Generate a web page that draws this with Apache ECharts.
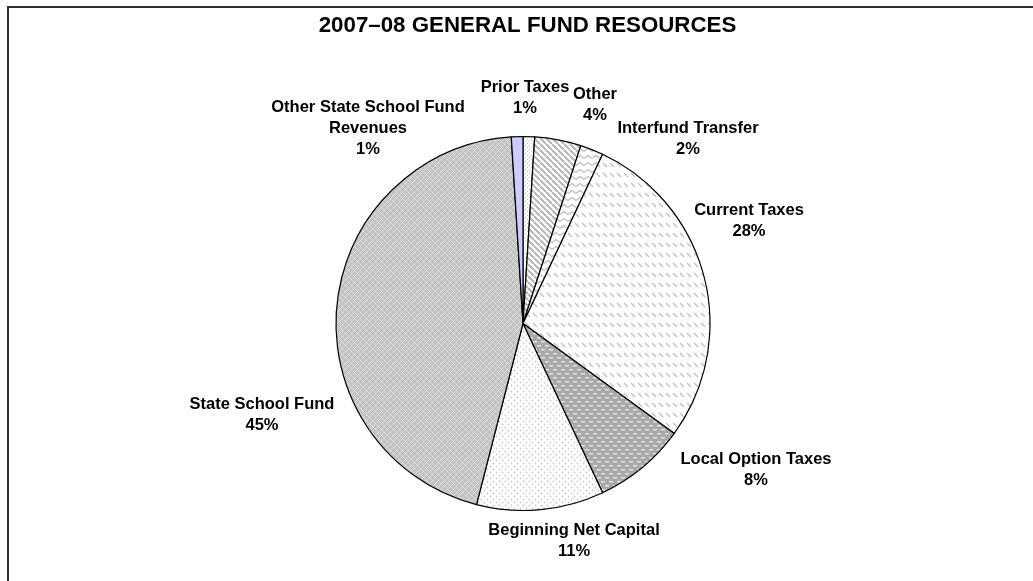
<!DOCTYPE html>
<html>
<head>
<meta charset="utf-8">
<script src="https://cdn.jsdelivr.net/npm/echarts@6/dist/echarts.min.js"></script>
<style>
  html, body { margin: 0; padding: 0; background: #fff; }
  #chart { width: 1033px; height: 581px; }
</style>
</head>
<body>
<div id="chart"></div>
<script>
// Slices, clockwise from twelve o'clock
const categories = ['Prior Taxes', 'Other', 'Interfund Transfer', 'Current Taxes',
  'Local Option Taxes', 'Beginning Net Capital', 'State School Fund',
  'Other State School Fund Revenues'];
const labelNames = ['Prior Taxes', 'Other', 'Interfund Transfer', 'Current Taxes',
  'Local Option Taxes', 'Beginning Net Capital', 'State School Fund',
  'Other State School Fund\nRevenues'];
const shares = [1, 4, 2, 28, 8, 11, 45, 1];

// Label block centres (px)
const labelSpots = [[525, 98], [595, 105], [688, 139], [749, 221],
  [756, 470], [574, 541], [262, 415], [368, 128]];

// Small repeating fill tiles
function tile(w, h, bg, draw) {
  const c = document.createElement('canvas');
  c.width = w; c.height = h;
  const g = c.getContext('2d');
  g.fillStyle = bg; g.fillRect(0, 0, w, h);
  draw(g);
  return { image: c, repeat: 'repeat' };
}

const fills = [
  // Prior Taxes: fine dots
  tile(4, 4, '#ffffff', g => { g.fillStyle = '#c4c4c4'; g.fillRect(1, 1, 1, 1); g.fillRect(3, 3, 1, 1); }),
  // Other: downward diagonal stripes
  tile(6, 6, '#ffffff', g => {
    g.strokeStyle = '#b4b4b4'; g.lineWidth = 2;
    g.beginPath();
    for (let k = -6; k <= 6; k += 6) { g.moveTo(k, 0); g.lineTo(k + 6, 6); }
    g.stroke();
  }),
  // Interfund Transfer: zigzag
  tile(8, 7, '#ffffff', g => {
    g.strokeStyle = '#bdbdbd'; g.lineWidth = 1.3;
    g.beginPath(); g.moveTo(0, 4.5); g.lineTo(4, 1.5); g.lineTo(8, 4.5); g.stroke();
  }),
  // Current Taxes: dashed downward diagonal
  tile(7, 10, '#ffffff', g => {
    g.strokeStyle = '#c2c2c2'; g.lineWidth = 1.4;
    g.beginPath(); g.moveTo(1, 3); g.lineTo(5, 7); g.stroke();
  }),
  // Local Option Taxes: grey with light dashes
  tile(8, 8, '#a9a9a9', g => {
    g.fillStyle = '#e4e4e4';
    g.fillRect(1, 1, 4, 1.5); g.fillRect(5, 5, 3, 1.5); g.fillRect(0, 5, 1, 1.5);
  }),
  // Beginning Net Capital: staggered dots
  tile(6, 6, '#ffffff', g => {
    g.fillStyle = '#c6c6c6';
    g.beginPath(); g.arc(1.5, 1.5, 0.9, 0, Math.PI * 2); g.arc(4.5, 4.5, 0.9, 0, Math.PI * 2); g.fill();
  }),
  // State School Fund: grey lattice
  tile(6, 6, '#c3c3c3', g => {
    g.fillStyle = '#e8e8e8';
    g.fillRect(0, 0, 1, 1); g.fillRect(3, 3, 1, 1);
    g.fillStyle = '#d6d6d6';
    g.fillRect(1, 1, 1, 1); g.fillRect(2, 2, 1, 1); g.fillRect(4, 4, 1, 1); g.fillRect(5, 5, 1, 1);
    g.fillRect(5, 1, 1, 1); g.fillRect(4, 2, 1, 1); g.fillRect(2, 4, 1, 1); g.fillRect(1, 5, 1, 1);
  }),
  // Other State School Fund Revenues: lavender
  '#ccccff'
];

const chart = echarts.init(document.getElementById('chart'), null, { renderer: 'canvas' });

chart.setOption({
  animation: false,
  backgroundColor: '#ffffff',
  graphic: [
    {
      type: 'rect', silent: true,
      shape: { x: 8, y: 7, width: 1060, height: 620 },
      style: { fill: null, stroke: '#2e2e2e', lineWidth: 2 }
    },
    {
      type: 'text', silent: true, x: 527.5, y: 25.5,
      style: {
        text: '2007\u201308 GENERAL FUND RESOURCES',
        fill: '#000', font: 'bold 22.3px "Liberation Sans", Arial, sans-serif',
        textAlign: 'center', textVerticalAlign: 'middle'
      }
    }
  ],
  series: [{
    type: 'pie',
    center: [523, 323.5],
    radius: 187,
    startAngle: 90,
    clockwise: true,
    avoidLabelOverlap: false,
    data: categories.map((name, i) => ({
      name, value: shares[i],
      itemStyle: { color: fills[i] }
    })),
    itemStyle: { borderColor: '#000', borderWidth: 1.2 },
    label: {
      show: true,
      position: 'outside',
      formatter: p => labelNames[p.dataIndex] + '\n' + Math.round(p.percent) + '%',
      fontFamily: '"Liberation Sans", Arial, sans-serif',
      fontWeight: 'bold',
      fontSize: 16.5,
      lineHeight: 21,
      color: '#000',
      align: 'center'
    },
    labelLine: { show: false },
    labelLayout: p => {
      const s = labelSpots[p.dataIndex];
      return { x: s[0], y: s[1], align: 'center', verticalAlign: 'middle', hideOverlap: false };
    },
    emphasis: { disabled: true }
  }]
});
</script>
</body>
</html>
